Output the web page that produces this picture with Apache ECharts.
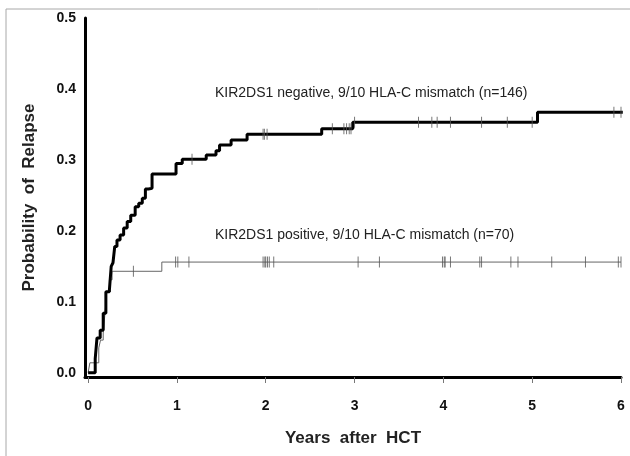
<!DOCTYPE html>
<html>
<head>
<meta charset="utf-8">
<script src="https://cdn.jsdelivr.net/npm/echarts@6/dist/echarts.min.js"></script>
<style>
  html, body { margin: 0; padding: 0; background: #fff; }
  #main { width: 630px; height: 456px; }
</style>
</head>
<body>
<div id="main"></div>
<script>
// KIR2DS1 negative (n=146): event times (years) and cumulative probability
var negTimes = [0, 0.08, 0.10, 0.136, 0.17, 0.20, 0.24, 0.26, 0.28, 0.30, 0.325, 0.36, 0.40, 0.44, 0.48, 0.53, 0.57, 0.61, 0.645, 0.68, 0.72, 0.99, 1.06, 1.33, 1.44, 1.48, 1.61, 1.79, 2.63, 2.98, 5.06, 6.02];
var negRisk  = [0, 0.02, 0.049, 0.06, 0.084, 0.114, 0.117, 0.15, 0.155, 0.178, 0.187, 0.194, 0.204, 0.213, 0.222, 0.234, 0.239, 0.246, 0.259, 0.26, 0.28, 0.295, 0.301, 0.307, 0.313, 0.321, 0.328, 0.336, 0.344, 0.353, 0.367, 0.367];
var negCensor = [1.17, 1.97, 1.985, 2.015, 2.75, 2.88, 2.91, 2.94, 2.96, 3.0, 3.72, 3.87, 3.93, 4.08, 4.43, 4.72, 5.0, 5.92, 6.0];

// KIR2DS1 positive (n=70)
var posTimes = [0, 0.02, 0.12, 0.14, 0.17, 0.19, 0.21, 0.24, 0.27, 0.83, 6.0];
var posRisk  = [0, 0.014, 0.035, 0.046, 0.056, 0.084, 0.114, 0.131, 0.143, 0.156, 0.156];
var posCensor = [0.51, 0.985, 1.01, 1.135, 1.97, 1.99, 2.0, 2.02, 2.04, 2.09, 3.04, 3.28, 3.99, 4.01, 4.02, 4.08, 4.41, 4.43, 4.76, 4.84, 5.22, 5.60, 5.97, 6.0];

var xTicks = [0, 1, 2, 3, 4, 5, 6];
var yTicks = [0, 0.1, 0.2, 0.3, 0.4, 0.5];

var negLabel = 'KIR2DS1 negative, 9/10 HLA-C mismatch (n=146)';
var posLabel = 'KIR2DS1 positive, 9/10 HLA-C mismatch (n=70)';

function pairs(xs, ys) {
  return xs.map(function (x, i) { return [x, ys[i]]; });
}
// value of the step curve at time t (for placing censor marks)
function stepAt(xs, ys, t) {
  var v = ys[0];
  for (var i = 0; i < xs.length; i++) {
    if (xs[i] <= t) v = ys[i];
  }
  return v;
}
function censorPts(cs, xs, ys) {
  return cs.map(function (t) { return [t, stepAt(xs, ys, t)]; });
}

var chart = echarts.init(document.getElementById('main'));

var nameFont = { fontFamily: 'Liberation Sans', fontSize: 17, fontWeight: 'bold', color: '#222' };
var tickFont = { fontFamily: 'Liberation Sans', fontSize: 14, fontWeight: 'bold', color: '#111' };

var option = {
  backgroundColor: '#ffffff',
  animation: false,
  grid: {
    left: 85, right: 9, top: 18, bottom: 79,
    containLabel: false,
    outerBoundsMode: 'none'
  },
  xAxis: {
    type: 'value',
    min: -0.035,
    max: 6,
    name: 'Years  after  HCT',
    nameLocation: 'middle',
    nameGap: 53,
    nameTextStyle: nameFont,
    axisLine: { onZero: false, lineStyle: { color: '#000', width: 3 } },
    axisTick: { show: true, customValues: xTicks, length: 6, lineStyle: { color: '#777', width: 1 } },
    axisLabel: Object.assign({ customValues: xTicks, margin: 22 }, tickFont),
    splitLine: { show: false }
  },
  yAxis: {
    type: 'value',
    min: -0.006,
    max: 0.5,
    name: 'Probability  of  Relapse',
    nameLocation: 'middle',
    nameGap: 47,
    nameTextStyle: nameFont,
    axisLine: { show: true, onZero: false, lineStyle: { color: '#000', width: 3 } },
    axisTick: { show: false },
    axisLabel: Object.assign({
      customValues: yTicks, margin: 9,
      formatter: function (v) { return v.toFixed(1); }
    }, tickFont),
    splitLine: { show: false }
  },
  graphic: [
    {
      type: 'rect', silent: true, z: -1,
      shape: { x: 6, y: 9, width: 700, height: 500 },
      style: { fill: 'none', stroke: '#a8a8a8', lineWidth: 1 }
    },
    {
      type: 'text', left: 215, top: 86,
      style: { text: negLabel, font: '14px "Liberation Sans"', fill: '#222' }
    },
    {
      type: 'text', left: 215, top: 228,
      style: { text: posLabel, font: '14px "Liberation Sans"', fill: '#222' }
    }
  ],
  series: [
    {
      name: 'positive',
      type: 'line',
      step: 'end',
      data: pairs(posTimes, posRisk),
      showSymbol: false,
      lineStyle: { color: '#666', width: 1 },
      z: 2
    },
    {
      name: 'positive censored',
      type: 'scatter',
      data: censorPts(posCensor, posTimes, posRisk),
      symbol: 'rect',
      symbolSize: [1, 11],
      itemStyle: { color: '#555' },
      z: 2
    },
    {
      name: 'negative',
      type: 'line',
      step: 'end',
      data: pairs(negTimes, negRisk),
      showSymbol: false,
      lineStyle: { color: '#000', width: 3 },
      z: 3
    },
    {
      name: 'negative censored',
      type: 'scatter',
      data: censorPts(negCensor, negTimes, negRisk),
      symbol: 'rect',
      symbolSize: [1, 11],
      itemStyle: { color: '#555' },
      z: 4
    }
  ]
};

chart.setOption(option);
</script>
</body>
</html>
